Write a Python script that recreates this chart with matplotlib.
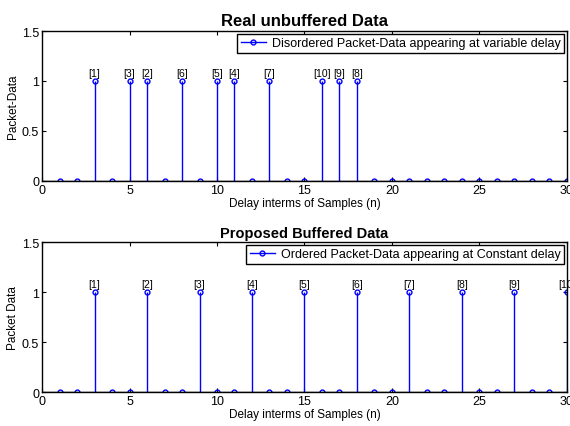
import matplotlib
matplotlib.use("Agg")
import matplotlib.pyplot as plt
from matplotlib.lines import Line2D
from matplotlib.ticker import FuncFormatter

plt.rcParams["font.family"] = ["Liberation Sans", "DejaVu Sans"]

# sample index n = 1..30
samples = list(range(1, 31))

# unbuffered: packets arrive at variable delay, out of order
unbuf_pos = [3, 5, 6, 8, 10, 11, 13, 16, 17, 18]
unbuf_labels = ["[1]", "[3]", "[2]", "[6]", "[5]", "[4]", "[7]", "[10]", "[9]", "[8]"]

# buffered: ordered at constant delay
buf_pos = [3, 6, 9, 12, 15, 18, 21, 24, 27, 30]
buf_labels = ["[1]", "[2]", "[3]", "[4]", "[5]", "[6]", "[7]", "[8]", "[9]", "[10]"]

BLUE = "#0000ff"


def values_for(pos):
    return [1 if n in pos else 0 for n in samples]


def draw_panel(ax, pos, labels, title, title_size, ylabel, legend_text):
    vals = values_for(pos)
    ml, sl, bl = ax.stem(samples, vals, linefmt="-", markerfmt="o", basefmt="k-")
    ml.set_markerfacecolor("none")
    ml.set_markeredgecolor(BLUE)
    ml.set_markersize(3.5)
    ml.set_markeredgewidth(1.0)
    sl.set_color(BLUE)
    sl.set_linewidth(1.0)
    bl.set_color("black")
    bl.set_linewidth(1.0)
    bl.set_xdata([0, 30])

    for x, lab in zip(pos, labels):
        ax.text(x, 1.03, lab, ha="center", va="bottom", fontsize=7.5)

    ax.set_xlim(0, 30)
    ax.set_ylim(0, 1.5)
    ax.set_xticks([0, 5, 10, 15, 20, 25, 30])
    ax.set_yticks([0, 0.5, 1, 1.5])
    ax.yaxis.set_major_formatter(FuncFormatter(lambda v, p: f"{v:g}"))
    ax.tick_params(direction="in", top=True, right=True, length=3, labelsize=9, pad=2)
    for s in ax.spines.values():
        s.set_linewidth(1.0)
    ax.set_title(title, fontsize=title_size, fontweight="bold", pad=4)
    ax.set_xlabel("Delay interms of Samples (n)", fontsize=8.5, labelpad=1)
    ax.set_ylabel(ylabel, fontsize=8.5, labelpad=2)

    handle = Line2D([], [], color=BLUE, lw=1.0, marker="o", markersize=3.5,
                    markerfacecolor="none", markeredgecolor=BLUE)
    leg = ax.legend([handle], [legend_text], loc="upper right", fontsize=9,
                    fancybox=False, framealpha=1, borderaxespad=0.2,
                    handlelength=2.0, handletextpad=0.5, borderpad=0.3)
    leg.get_frame().set_edgecolor("black")
    leg.get_frame().set_linewidth(1.0)


fig = plt.figure(figsize=(5.7, 4.27), dpi=100)
ax1 = fig.add_axes([0.0737, 0.574, 0.921, 0.351])
ax2 = fig.add_axes([0.0737, 0.0796, 0.921, 0.351])

draw_panel(ax1, unbuf_pos, unbuf_labels, "Real unbuffered Data", 12, "Packet-Data",
           "Disordered Packet-Data appearing at variable delay")
draw_panel(ax2, buf_pos, buf_labels, "Proposed Buffered Data", 10.5, "Packet Data",
           "Ordered Packet-Data appearing at Constant delay")

fig.savefig("out.png", dpi=100)
